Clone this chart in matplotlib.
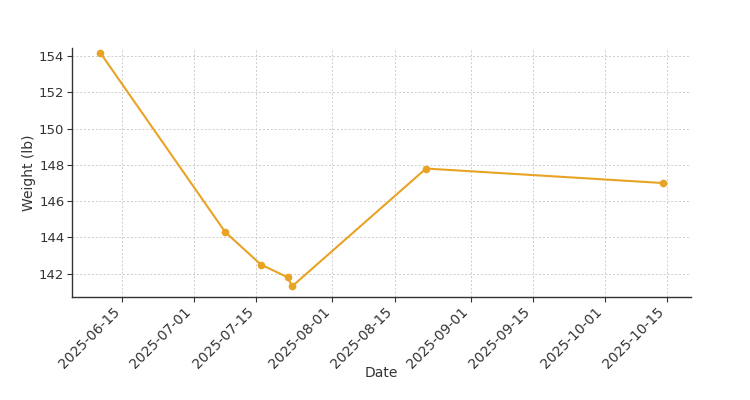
import matplotlib
matplotlib.use("Agg")
import matplotlib.pyplot as plt
import matplotlib.dates as mdates
import pandas as pd

dates = ["2025-06-10", "2025-07-08", "2025-07-16", "2025-07-22", "2025-07-23", "2025-08-22", "2025-10-14"]
weights = [154.2, 144.3, 142.5, 141.8, 141.3, 147.8, 147.0]
tick_dates = ["2025-06-15", "2025-07-01", "2025-07-15", "2025-08-01", "2025-08-15",
              "2025-09-01", "2025-09-15", "2025-10-01", "2025-10-15"]

x = pd.to_datetime(dates)
ticks = pd.to_datetime(tick_dates)

plt.rcParams['font.family'] = ['DejaVu Sans']
fig = plt.figure(figsize=(7.5, 4.0), dpi=100)
ax = fig.add_axes([0.096, 0.257, 0.825, 0.623])

color = "#E9A324"
ax.plot(x, weights, color=color, marker="o", markersize=4.5, linewidth=1.5)

ax.set_ylim(140.7, 154.45)
ax.set_xticks(ticks)
ax.xaxis.set_major_formatter(mdates.DateFormatter("%Y-%m-%d"))
ax.set_yticks([142, 144, 146, 148, 150, 152, 154])

txt = "#333333"
for lab in ax.get_xticklabels():
    lab.set_rotation(45)
    lab.set_ha("right")
ax.tick_params(axis="both", colors=txt, length=3.5, width=0.8)
ax.tick_params(axis="x", pad=2, labelsize=10)
ax.tick_params(axis="y", pad=2, labelsize=9.5)
ax.tick_params(axis="both", labelcolor=txt)

ax.grid(True, linestyle=(0, (2, 2)), color="#cccccc", linewidth=0.7)
ax.set_axisbelow(True)
for s in ["top", "right"]:
    ax.spines[s].set_visible(False)
for s in ["left", "bottom"]:
    ax.spines[s].set_color("#333333")
    ax.spines[s].set_linewidth(1.0)

ax.set_xlabel("Date", color=txt, fontsize=10)
ax.set_ylabel("Weight (lb)", color=txt, fontsize=10)
ax.xaxis.set_label_coords(0.5, -0.277)
ax.yaxis.set_label_coords(-0.058, 0.5)

fig.savefig("out.png", dpi=100)
